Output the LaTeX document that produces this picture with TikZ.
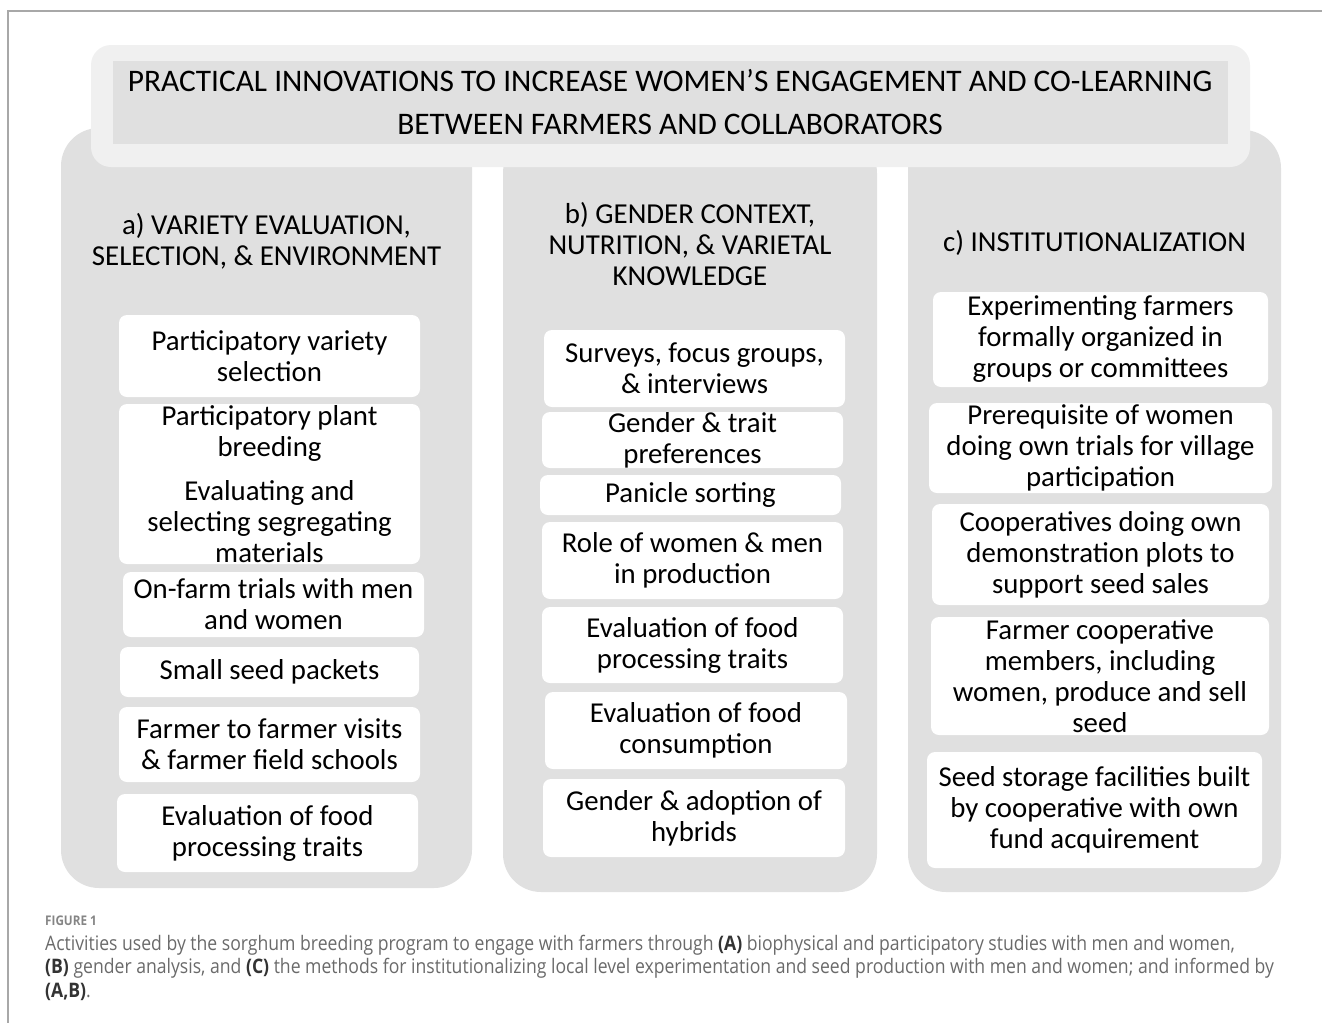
\documentclass[tikz,border=0pt]{standalone}
\usepackage{fontspec}
\setmainfont{Carlito}
\newfontfamily\capfont[FakeStretch=0.88]{Open Sans}
\definecolor{colgray}{HTML}{E0E0E0}
\definecolor{bannerout}{HTML}{F0F0F0}
\definecolor{capgray}{HTML}{6A6A6A}
\definecolor{figgray}{HTML}{858585}
\definecolor{framegray}{HTML}{A8A8A8}
\tikzset{
  itembox/.style={fill=white, rounded corners=8pt, inner sep=0pt, draw=none},
  itemtext/.style={align=center, font=\fontsize{28.8}{31}\selectfont, inner sep=0pt, text=black},
  headtext/.style={align=center, font=\fontsize{28.9}{31}\selectfont, inner sep=0pt, text=black},
  titletext/.style={align=center, font=\fontsize{31.4}{43}\selectfont, inner sep=0pt, text=black},
  captext/.style={anchor=base west, inner sep=0pt, font=\capfont\fontsize{20}{24}\selectfont, text=capgray},
}
\newcommand\ibox[6]{%
  \node[itembox, minimum width={(#4-#2)*1pt}, minimum height={(#5-#3)*1pt}] (#1) at ({(#2+#4)/2},{(#3+#5)/2}) {};
  \node[itemtext] (#1t) at (#1.center) {#6};}
\newcommand\capb[1]{\textcolor{black!80}{\textbf{#1}}}
\begin{document}
\begin{tikzpicture}[x=1pt,y=-1pt]
\useasboundingbox (0,0) rectangle (1322,1023);
% frame
\draw[framegray, line width=1.5pt] (1322,11) -- (8,11) -- (8,1023);
% columns
\fill[colgray, rounded corners=38pt] (61,128) rectangle (472,888);
\fill[colgray, rounded corners=38pt] (503,135) rectangle (877,892);
\fill[colgray, rounded corners=38pt] (908,130) rectangle (1281,892);
% banner
\fill[bannerout, rounded corners=20pt] (91,45) rectangle (1250,167);
\fill[colgray] (113,61) rectangle (1228,144);
\node[titletext] (title) at (670,102) {PRACTICAL INNOVATIONS TO INCREASE WOMEN’S ENGAGEMENT AND CO-LEARNING\\BETWEEN FARMERS AND COLLABORATORS};
% headers
\node[headtext] (ha) at (266.5,241) {a) VARIETY EVALUATION,\\SELECTION, \& ENVIRONMENT};
\node[headtext] (hb) at (690,244) {b) GENDER CONTEXT,\\NUTRITION, \& VARIETAL\\KNOWLEDGE};
\node[headtext] (hc) at (1094.5,243) {c) INSTITUTIONALIZATION};
% column a
\ibox{a1}{119}{315}{420}{397}{Participatory variety\\selection}
\ibox{a2}{119}{404}{420}{564}{Participatory plant\\breeding\\[13pt]Evaluating and\\selecting segregating\\materials}
\ibox{a3}{123}{572}{424}{637}{On-farm trials with men\\and women}
\ibox{a4}{120}{647}{419}{697}{Small seed packets}
\ibox{a5}{119}{707}{420}{782}{Farmer to farmer visits\\\& farmer field schools}
\ibox{a6}{117}{794}{418}{872}{Evaluation of food\\processing traits}
% column b
\ibox{b1}{544}{330}{845}{407}{Surveys, focus groups,\\\& interviews}
\ibox{b2}{542}{412}{843}{468}{Gender \& trait\\preferences}
\ibox{b3}{540}{475}{841}{515}{Panicle sorting}
\ibox{b4}{542}{522}{843}{599}{Role of women \& men\\in production}
\ibox{b5}{542}{607}{843}{683}{Evaluation of food\\processing traits}
\ibox{b6}{545}{692}{847}{769}{Evaluation of food\\consumption}
\ibox{b7}{543}{779}{845}{857}{Gender \& adoption of\\hybrids}
% column c
\ibox{c1}{933}{292}{1268}{387}{Experimenting farmers\\formally organized in\\groups or committees}
\ibox{c2}{929}{403}{1272}{493}{Prerequisite of women\\doing own trials for village\\participation}
\ibox{c3}{932}{504}{1269}{605}{Cooperatives doing own\\demonstration plots to\\support seed sales}
\ibox{c4}{931}{617}{1269}{735}{Farmer cooperative\\members, including\\women, produce and sell\\seed}
\ibox{c5}{927}{752}{1262}{868}{Seed storage facilities built\\by cooperative with own\\fund acquirement}
% caption
\node[captext, font=\capfont\bfseries\fontsize{13.3}{15}\selectfont, text=figgray] (fig) at (45,925) {FIGURE 1};
\node[captext] (cap1) at (45,950) {Activities used by the sorghum breeding program to engage with farmers through \capb{(A)} biophysical and participatory studies with men and women,};
\node[captext] (cap2) at (45,973.5) {\capb{(B)} gender analysis, and \capb{(C)} the methods for institutionalizing local level experimentation and seed production with men and women; and informed by};
\node[captext] (cap3) at (45,997) {\capb{(A,B)}.};
\end{tikzpicture}
\end{document}
